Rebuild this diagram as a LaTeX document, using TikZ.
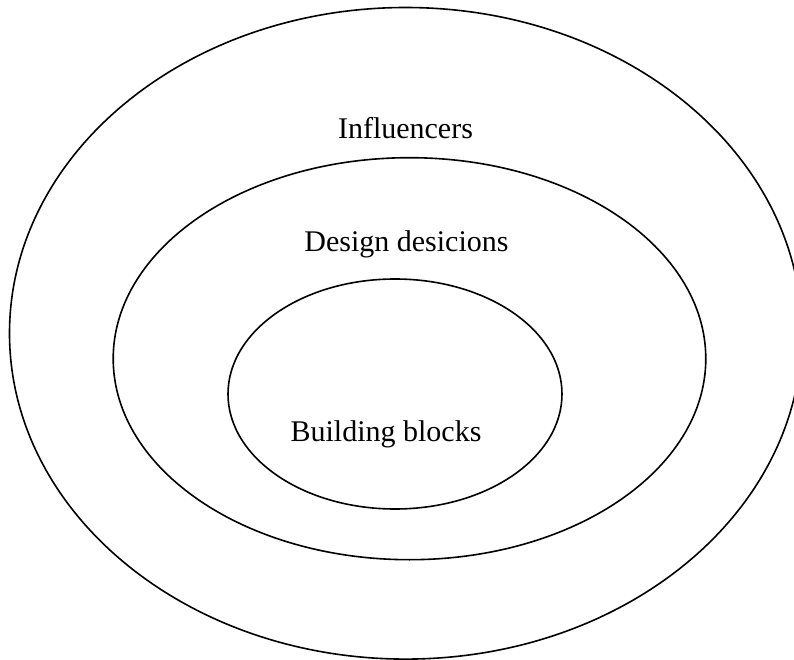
\documentclass[tikz,border=0pt]{standalone}
\usepackage{fontspec}
\setmainfont{Liberation Serif}
\begin{document}
\begin{tikzpicture}[x=0.75pt,y=-0.75pt,
  ring/.style={draw=black,line width=1.2pt},
  label/.style={anchor=base,inner sep=0pt,font=\fontsize{22.5}{27}\selectfont}]
\useasboundingbox (0,0) rectangle (794,660);
% nested rings
\draw[ring] (405.7,333.3) ellipse [x radius=396.2, y radius=325.8];
\draw[ring] (409.5,358.7) ellipse [x radius=296.3, y radius=201];
\draw[ring] (395,394) ellipse [x radius=167, y radius=115];
% ring labels
\node[label] (infl) at (405.5,139) {Influencers};
\node[label] (dd) at (406.5,252) {Design desicions};
\node[label] (bb) at (386,441) {Building blocks};
\end{tikzpicture}
\end{document}
